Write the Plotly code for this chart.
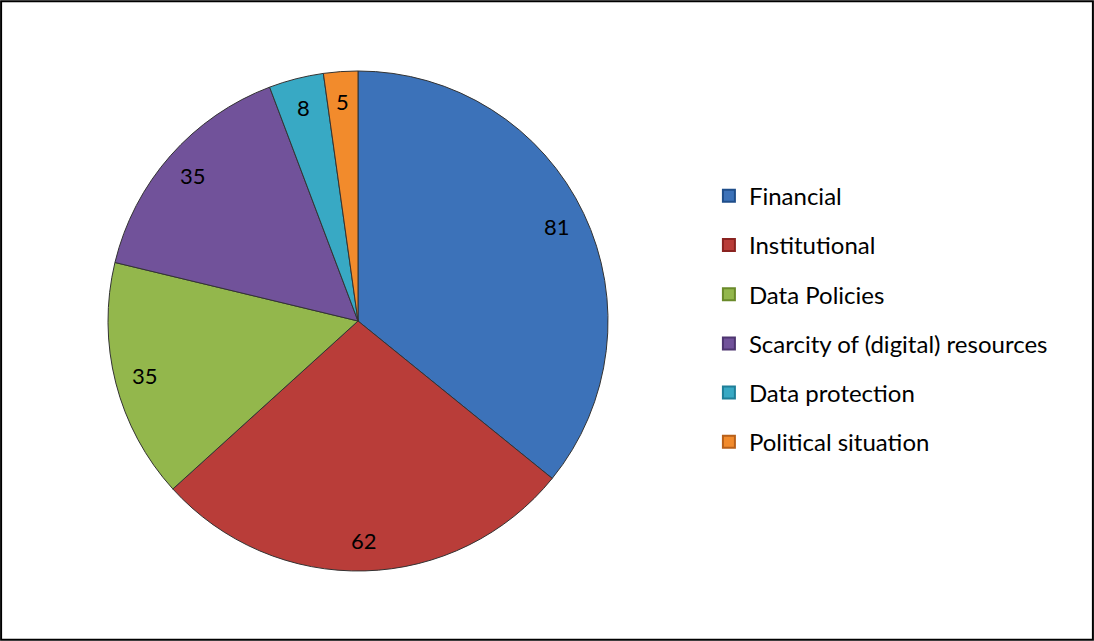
import math
import plotly.graph_objects as go

categories = ["Financial", "Institutional", "Data Policies",
              "Scarcity of (digital) resources", "Data protection", "Political situation"]
values = [81, 62, 35, 35, 8, 5]
colors = ["#3C72B9", "#B93D39", "#93B74C", "#71529A", "#38A9C4", "#F28B2C"]
legend_edges = ["#1F4E8A", "#8A2320", "#6A8A2A", "#4E3570", "#1F7F98", "#B8601A"]

W, H = 1094, 641
dom_x = [108 / W, 608 / W]
dom_y = [70 / H, 570 / H]

fig = go.Figure()
fig.add_trace(go.Pie(
    labels=categories, values=values, sort=False, direction="clockwise",
    rotation=0, marker=dict(colors=colors, line=dict(color="#333333", width=1)),
    textinfo="none", showlegend=False, hoverinfo="label+value",
    domain=dict(x=dom_x, y=dom_y),
))

# value labels placed near the rim, derived from the slice angles
total = sum(values)
cx = (dom_x[0] + dom_x[1]) / 2
cy = (dom_y[0] + dom_y[1]) / 2
rx = (dom_x[1] - dom_x[0]) / 2
ry = (dom_y[1] - dom_y[0]) / 2
cum = 0
annotations = []
for v in values:
    mid = (cum + v / 2) / total * 2 * math.pi
    cum += v
    f = 0.88
    annotations.append(dict(
        x=cx + f * rx * math.sin(mid), y=cy + f * ry * math.cos(mid),
        xref="paper", yref="paper", text=str(v), showarrow=False,
        xanchor="center", yanchor="middle",
        font=dict(family="Lato", size=22, color="black"),
    ))

for c, col, edge in zip(categories, colors, legend_edges):
    fig.add_trace(go.Scatter(
        x=[None], y=[None], mode="markers", name=c, legendgroup=c,
        marker=dict(symbol="square", size=12, color=col, line=dict(color=edge, width=1)),
    ))

fig.update_layout(
    width=W, height=H, margin=dict(l=0, r=0, t=0, b=0),
    paper_bgcolor="white", plot_bgcolor="white",
    xaxis=dict(visible=False), yaxis=dict(visible=False),
    legend=dict(x=0.648, y=0.729, xanchor="left", yanchor="top",
                font=dict(family="Lato", size=24, color="black"),
                tracegroupgap=15, itemsizing="constant", bgcolor="rgba(0,0,0,0)"),
    annotations=annotations,
    shapes=[dict(type="rect", xref="paper", yref="paper", x0=0.001, y0=0.002, x1=0.999, y1=0.998,
                 line=dict(color="black", width=2))],
)

fig.write_html("out.html", config={"displayModeBar": False},
               post_script="document.body.style.margin='0';document.body.style.overflow='hidden';")
